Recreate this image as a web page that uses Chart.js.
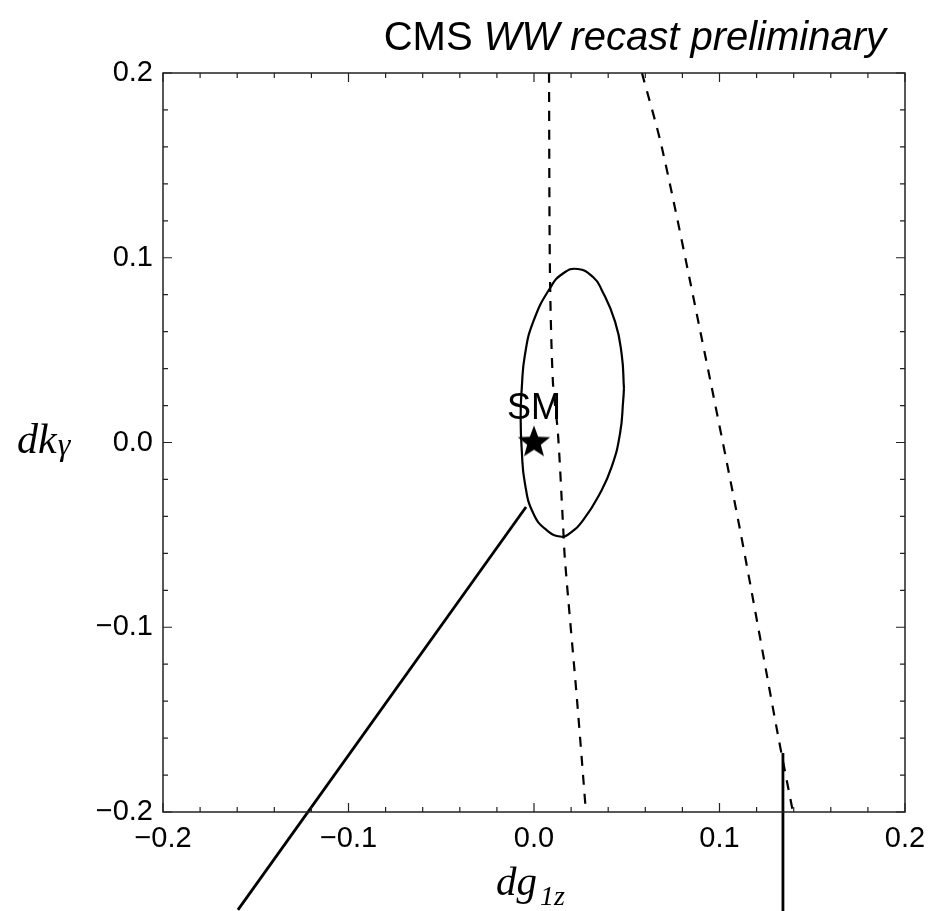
<!DOCTYPE html>
<html>
<head>
<meta charset="utf-8">
<script src="https://cdn.jsdelivr.net/npm/chart.js@4.4.1/dist/chart.umd.min.js"></script>
<style>
  html, body { margin: 0; padding: 0; background: #fff; }
  #wrap { width: 930px; height: 911px; position: relative; }
</style>
</head>
<body>
<div id="wrap"><canvas id="chart"></canvas></div>
<script>
// axis ranges and ticks
const xTicks = [-0.2, -0.1, 0.0, 0.1, 0.2];
const yTicks = [-0.2, -0.1, 0.0, 0.1, 0.2];
const minorStep = 0.02;

// ellipse contour (dg1z, dkγ), starting on the right side
const ellipseX = [0.0485, 0.0481, 0.0464, 0.0419, 0.0356, 0.0266, 0.0194, 0.0149, 0.0068, -0.0004, -0.0049, -0.0066, -0.0072, -0.0066, -0.0049, -0.0004, 0.0086, 0.0158, 0.0236, 0.0318, 0.0363, 0.0437, 0.0473, 0.0485];
const ellipseY = [0.0293, 0.0230, 0.0050, -0.0131, -0.0275, -0.0419, -0.0491, -0.0510, -0.0474, -0.0383, -0.0221, -0.0041, 0.0140, 0.0293, 0.0474, 0.0654, 0.0835, 0.0916, 0.0939, 0.0896, 0.0830, 0.0654, 0.0474, 0.0293];

// dashed band, left edge
const dashAX = [0.0081, 0.0086, 0.0102, 0.0129, 0.0156, 0.0167, 0.0232, 0.0280];
const dashAY = [0.2, 0.0923, 0.0327, 0.0051, -0.0436, -0.0636, -0.1394, -0.2];

// dashed band, right edge
const dashBX = [0.0582, 0.0690, 0.0895, 0.1111, 0.1315, 0.1396];
const dashBY = [0.2, 0.1594, 0.0609, -0.0474, -0.1583, -0.2];

// solid diagonal line (runs below the frame)
const diagX = [-0.0043, -0.1596];
const diagY = [-0.0349, -0.2530];

// solid vertical line (runs below the frame)
const vertX = [0.1342, 0.1342];
const vertY = [-0.168, -0.2536];

// Standard Model point
const smX = [0.0];
const smY = [0.0];
const smLabel = 'SM';

function toPoints(xs, ys) {
    return xs.map((x, i) => ({ x: x, y: ys[i] }));
}

function fmt(v) {
    return v.toFixed(1).replace('-', '\u2212');
}

// filled five-point star for the SM marker
function makeStar(r) {
    const c = document.createElement('canvas');
    c.width = c.height = 2 * r + 2;
    const g = c.getContext('2d');
    g.translate(r + 1, r + 1);
    g.beginPath();
    for (let i = 0; i < 10; i++) {
        const rad = i % 2 === 0 ? r : r * 0.42;
        const a = -Math.PI / 2 + i * Math.PI / 5;
        g.lineTo(rad * Math.cos(a), rad * Math.sin(a));
    }
    g.closePath();
    g.fillStyle = '#000';
    g.fill();
    return c;
}

// frame, inward ticks, texts
const framePlugin = {
    id: 'frame',
    afterDraw(chart) {
        const ctx = chart.ctx;
        const a = chart.chartArea;
        const xs = chart.scales.x, ys = chart.scales.y;
        ctx.save();
        ctx.strokeStyle = '#222';
        ctx.lineWidth = 1.5;
        ctx.strokeRect(a.left, a.top, a.right - a.left, a.bottom - a.top);
        ctx.lineWidth = 1.2;
        const nX = Math.round((xs.max - xs.min) / minorStep);
        for (let i = 0; i <= nX; i++) {
            const v = xs.min + i * minorStep;
            const len = (i % 5 === 0) ? 9 : 5;
            const px = xs.getPixelForValue(v);
            ctx.beginPath();
            ctx.moveTo(px, a.bottom); ctx.lineTo(px, a.bottom - len);
            ctx.moveTo(px, a.top); ctx.lineTo(px, a.top + len);
            ctx.stroke();
        }
        const nY = Math.round((ys.max - ys.min) / minorStep);
        for (let i = 0; i <= nY; i++) {
            const v = ys.min + i * minorStep;
            const len = (i % 5 === 0) ? 9 : 5;
            const py = ys.getPixelForValue(v);
            ctx.beginPath();
            ctx.moveTo(a.left, py); ctx.lineTo(a.left + len, py);
            ctx.moveTo(a.right, py); ctx.lineTo(a.right - len, py);
            ctx.stroke();
        }

        ctx.fillStyle = '#000';
        ctx.textBaseline = 'alphabetic';

        // title, right aligned
        const t1 = 'CMS ', t2 = 'WW recast preliminary';
        ctx.font = '40px "Liberation Sans", Arial, sans-serif';
        const w1 = ctx.measureText(t1).width;
        ctx.font = 'italic 40px "Liberation Sans", Arial, sans-serif';
        const w2 = ctx.measureText(t2).width;
        const tx = 886 - w1 - w2;
        ctx.font = '40px "Liberation Sans", Arial, sans-serif';
        ctx.fillText(t1, tx, 50);
        ctx.font = 'italic 40px "Liberation Sans", Arial, sans-serif';
        ctx.fillText(t2, tx + w1, 50);

        // y axis title dkγ
        ctx.font = 'italic 42px "Liberation Serif", "DejaVu Serif", serif';
        ctx.fillText('dk', 17, 453);
        const wdk = ctx.measureText('dk').width;
        ctx.font = 'italic 32px "Liberation Serif", "DejaVu Serif", serif';
        ctx.fillText('\u03B3', 17 + wdk + 1, 455);

        // x axis title dg1z
        ctx.font = 'italic 41px "Liberation Serif", "DejaVu Serif", serif';
        ctx.fillText('dg', 496, 895);
        const wdg = ctx.measureText('dg').width;
        ctx.font = 'italic 28px "Liberation Serif", "DejaVu Serif", serif';
        ctx.fillText('1z', 496 + wdg + 3, 905);

        // SM label above the star
        const meta = chart.getDatasetMeta(5);
        const p = meta.data[0];
        ctx.font = '36px "Liberation Sans", Arial, sans-serif';
        ctx.textAlign = 'center';
        ctx.fillText(smLabel, p.x, p.y - 24);
        ctx.restore();
    }
};

const lineBase = {
    showLine: true,
    pointRadius: 0,
    pointHoverRadius: 0,
    borderColor: '#000',
    backgroundColor: '#000',
    fill: false
};

new Chart(document.getElementById('chart'), {
    type: 'scatter',
    data: {
        datasets: [
            Object.assign({}, lineBase, {
                label: 'ellipse',
                data: toPoints(ellipseX, ellipseY),
                borderWidth: 2.2,
                tension: 0.5
            }),
            Object.assign({}, lineBase, {
                label: 'band left',
                data: toPoints(dashAX, dashAY),
                borderWidth: 2.2,
                borderDash: [10, 9],
                tension: 0.3
            }),
            Object.assign({}, lineBase, {
                label: 'band right',
                data: toPoints(dashBX, dashBY),
                borderWidth: 2.2,
                borderDash: [10, 9],
                tension: 0.3
            }),
            Object.assign({}, lineBase, {
                label: 'diagonal',
                data: toPoints(diagX, diagY),
                borderWidth: 2.8,
                clip: false
            }),
            Object.assign({}, lineBase, {
                label: 'vertical',
                data: toPoints(vertX, vertY),
                borderWidth: 2.8,
                clip: false
            }),
            {
                label: 'SM',
                data: toPoints(smX, smY),
                showLine: false,
                pointStyle: makeStar(17),
                pointRadius: 17,
                pointHoverRadius: 17,
                clip: false
            }
        ]
    },
    options: {
        responsive: true,
        maintainAspectRatio: false,
        animation: false,
        events: [],
        layout: { padding: { top: 73, right: 25, left: 0, bottom: 0 } },
        plugins: {
            legend: { display: false },
            tooltip: { enabled: false },
            title: { display: false }
        },
        scales: {
            x: {
                type: 'linear',
                min: -0.2,
                max: 0.2,
                grid: { display: false, drawTicks: false },
                border: { display: false },
                afterFit: s => { s.height = 99; s.paddingLeft = 0; s.paddingRight = 0; },
                afterBuildTicks: s => { s.ticks = xTicks.map(v => ({ value: v })); },
                ticks: {
                    padding: 10,
                    color: '#000',
                    font: { family: '"Liberation Sans", Arial, sans-serif', size: 29 },
                    callback: v => fmt(v),
                    maxRotation: 0
                }
            },
            y: {
                type: 'linear',
                min: -0.2,
                max: 0.2,
                grid: { display: false, drawTicks: false },
                border: { display: false },
                afterFit: s => { s.width = 163; s.paddingTop = 0; s.paddingBottom = 0; },
                afterBuildTicks: s => { s.ticks = yTicks.map(v => ({ value: v })); },
                ticks: {
                    padding: 10,
                    color: '#000',
                    font: { family: '"Liberation Sans", Arial, sans-serif', size: 29 },
                    callback: v => fmt(v)
                }
            }
        }
    },
    plugins: [framePlugin]
});
</script>
</body>
</html>
